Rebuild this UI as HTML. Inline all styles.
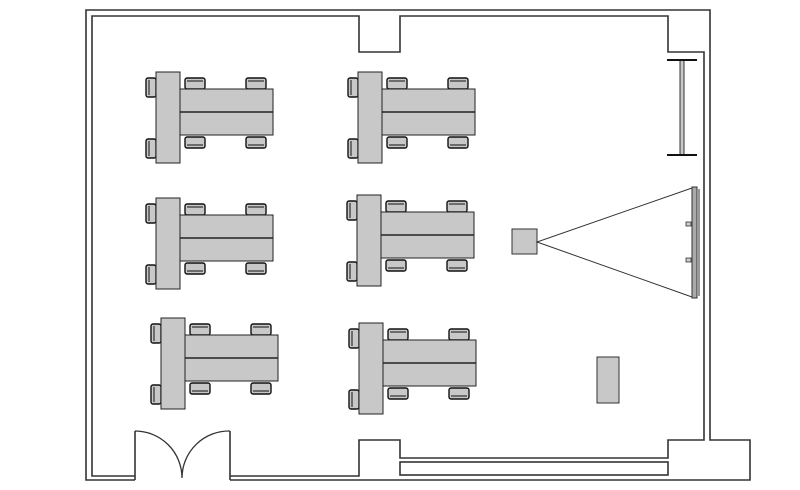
<!DOCTYPE html>
<html><head><meta charset="utf-8"><style>html,body{margin:0;padding:0;background:#fff}svg{display:block}</style></head>
<body>
<svg width="800" height="490" viewBox="0 0 800 490" xmlns="http://www.w3.org/2000/svg">
<defs>
<g id="chairH" stroke="#111" stroke-width="1.4" fill="#c8c8c8">
<rect x="0" y="0" width="20" height="11" rx="2"/>
<line x1="2" y1="3" x2="18" y2="3" stroke-width="1"/>
</g>
<g id="cl">
<g stroke="#111" stroke-width="1.4" fill="#c8c8c8">
<rect x="-10" y="6" width="10" height="19" rx="2"/>
<rect x="-10" y="67" width="10" height="19" rx="2"/>
<line x1="-7" y1="8" x2="-7" y2="23" stroke-width="1"/>
<line x1="-7" y1="69" x2="-7" y2="84" stroke-width="1"/>
</g>
<use href="#chairH" x="29" y="6"/>
<use href="#chairH" x="90" y="6"/>
<use href="#chairH" x="29" y="63" transform="translate(0,138) scale(1,-1) translate(0,-1)"/>
<use href="#chairH" x="90" y="63" transform="translate(0,138) scale(1,-1) translate(0,-1)"/>
<rect x="24" y="17" width="93" height="46" fill="#c8c8c8" stroke="#222" stroke-width="1"/>
<line x1="24" y1="40" x2="117" y2="40" stroke="#222" stroke-width="1.5"/>
<rect x="0" y="0" width="24" height="91" fill="#c8c8c8" stroke="#222" stroke-width="1"/>
</g>
</defs>
<g fill="none" stroke="#333" stroke-width="1.6">
<polyline points="135,480 86,480 86,10 710,10 710,440 750,440 750,480 230,480"/>
<polyline points="135,476 92,476 92,16 359,16 359,52 400,52 400,16 668,16 668,52 704,52 704,440 668,440 668,458 400,458 400,440 359,440 359,476 230,476"/>
<rect x="400" y="462" width="268" height="13"/>
<line x1="135" y1="431" x2="135" y2="480"/>
<line x1="230" y1="431" x2="230" y2="480"/>
<path d="M135,431 A47,47 0 0 1 182,478 M230,431 A47,47 0 0 0 182,478" stroke-width="1.3"/>
</g>
<use href="#cl" x="156" y="72"/>
<use href="#cl" x="358" y="72"/>
<use href="#cl" x="156" y="198"/>
<use href="#cl" x="357" y="195"/>
<use href="#cl" x="161" y="318"/>
<use href="#cl" x="359" y="323"/>
<rect x="680" y="60" width="4" height="95" fill="#c8c8c8" stroke="#333"/>
<line x1="667" y1="60" x2="697" y2="60" stroke="#111" stroke-width="2"/>
<line x1="667" y1="155" x2="697" y2="155" stroke="#111" stroke-width="2"/>
<rect x="512" y="229" width="25" height="25" fill="#c8c8c8" stroke="#333"/>
<polyline points="692,188 537,242 692,297" fill="none" stroke="#333" stroke-width="1"/>
<rect x="692" y="187" width="5" height="111" fill="#aaa" stroke="#333"/>
<line x1="699" y1="189" x2="699" y2="296" stroke="#333"/>
<rect x="686" y="222" width="5" height="4" fill="#ccc" stroke="#333" stroke-width=".8"/>
<rect x="686" y="258" width="5" height="4" fill="#ccc" stroke="#333" stroke-width=".8"/>
<rect x="597" y="357" width="22" height="46" fill="#c8c8c8" stroke="#333"/>
</svg>
</body></html>
